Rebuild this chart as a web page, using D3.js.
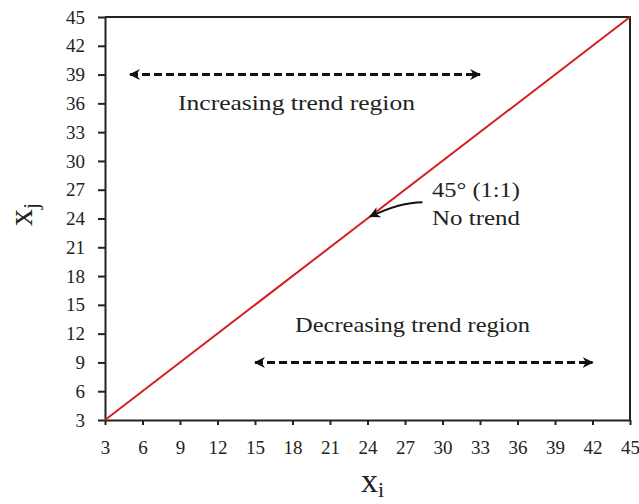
<!DOCTYPE html>
<html><head><meta charset="utf-8">
<script src="https://cdn.jsdelivr.net/npm/d3@7"></script>
<style>
html,body{margin:0;padding:0;background:#fff;}
svg{display:block;}
text{font-family:"Liberation Serif","DejaVu Serif","Times New Roman",serif;fill:#222;}
</style></head>
<body><svg id="chart" width="639" height="504"></svg>
<script>
const xTicks = [3,6,9,12,15,18,21,24,27,30,33,36,39,42,45];
const yTicks = [3,6,9,12,15,18,21,24,27,30,33,36,39,42,45];
const lineX = [3,45];
const lineY = [3,45];
const incArrowX = [5,33];
const incArrowY = 39;
const decArrowX = [15,42];
const decArrowY = 9;
const labels = ["Increasing trend region","Decreasing trend region","45° (1:1)","No trend"];
const pointerFrom = [28.4,25.7];
const pointerTo = [24.2,24.2];

const svg = d3.select("#chart");
const m = {l:105, r:630, t:17, b:420};
const x = d3.scaleLinear().domain([3,45]).range([m.l,m.r]);
const y = d3.scaleLinear().domain([3,45]).range([m.b,m.t]);

const defs = svg.append("defs");
defs.append("marker").attr("id","ah2").attr("viewBox","0 0 10 10").attr("refX",9).attr("refY",5)
  .attr("markerWidth",11).attr("markerHeight",11).attr("markerUnits","userSpaceOnUse").attr("orient","auto-start-reverse")
  .append("path").attr("d","M0,0 L10,5 L0,10 L3,5 Z").attr("fill","#111");

// axes
const xAxis = svg.append("g").attr("transform",`translate(0,${m.b})`)
  .call(d3.axisBottom(x).tickValues(xTicks).tickSize(5).tickPadding(16).tickSizeOuter(0));
const yAxis = svg.append("g").attr("transform",`translate(${m.l},0)`)
  .call(d3.axisLeft(y).tickValues(yTicks).tickSize(7).tickPadding(13).tickSizeOuter(0));
[xAxis,yAxis].forEach(g=>{
  g.attr("font-family",null).attr("font-size",null);
  g.select(".domain").attr("stroke","#222").attr("stroke-width",2);
  g.selectAll(".tick line").attr("stroke","#222").attr("stroke-width",2);
  g.selectAll(".tick text").attr("font-size",19).attr("fill","#333");
});
// top & right border
svg.append("path").attr("d",`M${m.l},${m.t}H${m.r}V${m.b}`).attr("fill","none").attr("stroke","#222").attr("stroke-width",2);

// 1:1 line
svg.append("line").attr("x1",x(lineX[0])).attr("y1",y(lineY[0])).attr("x2",x(lineX[1])).attr("y2",y(lineY[1]))
  .attr("stroke","#d42020").attr("stroke-width",2);

// dashed arrows
function dashArrow(xs,yv){
  svg.append("line").attr("x1",x(xs[0])).attr("x2",x(xs[1])).attr("y1",y(yv)).attr("y2",y(yv))
    .attr("stroke","#111").attr("stroke-width",3).attr("stroke-dasharray","8,4")
    .attr("marker-start","url(#ah2)").attr("marker-end","url(#ah2)");
}
dashArrow(incArrowX,incArrowY);
dashArrow(decArrowX,decArrowY);

// region labels
svg.append("text").attr("x",178).attr("y",110).attr("font-size",22)
  .attr("textLength",237).attr("lengthAdjust","spacingAndGlyphs").text(labels[0]);
svg.append("text").attr("x",295).attr("y",332).attr("font-size",22)
  .attr("textLength",235).attr("lengthAdjust","spacingAndGlyphs").text(labels[1]);

// no-trend annotation
svg.append("text").attr("x",432).attr("y",197).attr("font-size",22)
  .attr("textLength",88).attr("lengthAdjust","spacingAndGlyphs").text(labels[2]);
svg.append("text").attr("x",432).attr("y",225).attr("font-size",22)
  .attr("textLength",88).attr("lengthAdjust","spacingAndGlyphs").text(labels[3]);
const p0=[x(pointerFrom[0]),y(pointerFrom[1])], p1=[x(pointerTo[0]),y(pointerTo[1])];
svg.append("path").attr("d",`M${p0[0]},${p0[1]} Q${(p0[0]+p1[0])/2+4},${p0[1]} ${p1[0]},${p1[1]}`)
  .attr("fill","none").attr("stroke","#111").attr("stroke-width",2).attr("marker-end","url(#ah2)");

// axis titles
const xt = svg.append("text").attr("x",361).attr("y",492).attr("font-size",34);
xt.append("tspan").text("x");
xt.append("tspan").attr("font-size",22).attr("dy",5).text("i");
const yt = svg.append("text").attr("transform","translate(32,226) rotate(-90)").attr("font-size",34);
yt.append("tspan").text("x");
yt.append("tspan").attr("font-size",22).attr("dy",6).text("j");
</script></body></html>
